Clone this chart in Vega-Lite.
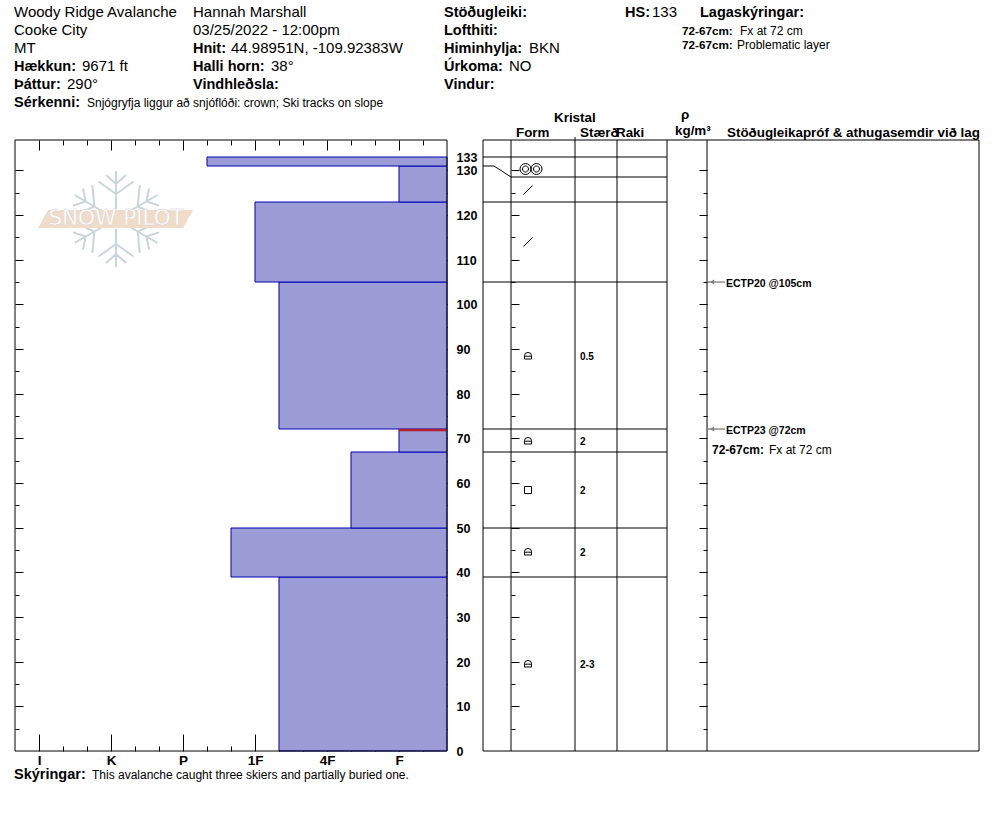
{
"$schema":"https://vega.github.io/schema/vega-lite/v6.json",
"autosize":{"type":"fit","contains":"padding"},
"width":994,"height":840,"padding":0,
"background":"white",
"config":{"view":{"stroke":null},"font":"Liberation Sans","axis":{"title":null,"grid":false,"zindex":1,"domain":false,"tickColor":"#000","tickWidth":1,"labelFlush":false,"labelBound":false,"labelOverlap":false,"labelFont":"Liberation Sans"}},
"datasets":{
"page":[
{"x":14,"line":1,"text":"Woody Ridge Avalanche","kind":"value"},
{"x":14,"line":2,"text":"Cooke City","kind":"value"},
{"x":14,"line":3,"text":"MT","kind":"value"},
{"x":14,"line":4,"text":"Hækkun:","kind":"label"},
{"x":82,"line":4,"text":"9671 ft","kind":"value"},
{"x":14,"line":5,"text":"Þáttur:","kind":"label"},
{"x":67,"line":5,"text":"290°","kind":"value"},
{"x":14,"line":6,"text":"Sérkenni:","kind":"label"},
{"x":87,"line":6,"text":"Snjógryfja liggur að snjóflóði: crown;  Ski tracks on slope","kind":"note"},
{"x":193,"line":1,"text":"Hannah Marshall","kind":"value"},
{"x":193,"line":2,"text":"03/25/2022 - 12:00pm","kind":"value"},
{"x":193,"line":3,"text":"Hnit:","kind":"label"},
{"x":231,"line":3,"text":"44.98951N, -109.92383W","kind":"value"},
{"x":193,"line":4,"text":"Halli horn:","kind":"label"},
{"x":271,"line":4,"text":"38°","kind":"value"},
{"x":193,"line":5,"text":"Vindhleðsla:","kind":"label"},
{"x":444,"line":1,"text":"Stöðugleiki:","kind":"label"},
{"x":444,"line":2,"text":"Lofthiti:","kind":"label"},
{"x":444,"line":3,"text":"Himinhylja:","kind":"label"},
{"x":529,"line":3,"text":"BKN","kind":"value"},
{"x":444,"line":4,"text":"Úrkoma:","kind":"label"},
{"x":509,"line":4,"text":"NO","kind":"value"},
{"x":444,"line":5,"text":"Vindur:","kind":"label"},
{"x":625,"line":1,"text":"HS:","kind":"label"},
{"x":652,"line":1,"text":"133","kind":"value"},
{"x":700,"line":1,"text":"Lagaskýringar:","kind":"label"},
{"x":682,"line":2,"text":"72-67cm:","kind":"smalllabel"},
{"x":740,"line":2,"text":"Fx at 72 cm","kind":"note"},
{"x":682,"line":2.78,"text":"72-67cm:","kind":"smalllabel"},
{"x":737,"line":2.78,"text":"Problematic layer","kind":"note"},
{"x":554,"line":6.89,"text":"Kristal","kind":"column"},
{"x":516,"line":7.72,"text":"Form","kind":"column"},
{"x":580,"line":7.72,"text":"Stærð","kind":"column"},
{"x":616,"line":7.72,"text":"Raki","kind":"column"},
{"x":681,"line":6.72,"text":"ρ","kind":"column"},
{"x":675,"line":7.61,"text":"kg/m³","kind":"column"},
{"x":727,"line":7.72,"text":"Stöðugleikapróf & athugasemdir við lag","kind":"column"},
{"x":14,"line":43.33,"text":"Skýringar:","kind":"label"},
{"x":92,"line":43.33,"text":"This avalanche caught three skiers and partially buried one.","kind":"note"}
],
"layers":[
{"bottom":0,"top":39,"hardness":2.6667},
{"bottom":39,"top":50,"hardness":3.3333},
{"bottom":50,"top":67,"hardness":1.6667},
{"bottom":67,"top":72,"hardness":1},
{"bottom":72,"top":105,"hardness":2.6667},
{"bottom":105,"top":123,"hardness":3},
{"bottom":123,"top":131,"hardness":1},
{"bottom":131,"top":133,"hardness":3.6667}
],
"boundaries":[
{"depth":133,"from":0,"to":184},
{"depth":128.5,"from":28,"to":184},
{"depth":123,"from":0,"to":184},
{"depth":105,"from":0,"to":184},
{"depth":72,"from":0,"to":184},
{"depth":67,"from":0,"to":184},
{"depth":50,"from":0,"to":184},
{"depth":39,"from":0,"to":184},
{"depth":136.78,"from":0,"to":496},
{"depth":0,"from":0,"to":496}
],
"columns":[{"col":0},{"col":28},{"col":92},{"col":134},{"col":184},{"col":224},{"col":496}],
"grains":[
{"depth":130.3,"form":"clustered"},
{"depth":125.7,"form":"slash"},
{"depth":114,"form":"slash"},
{"depth":88.5,"form":"rounded"},
{"depth":69.5,"form":"rounded"},
{"depth":58.5,"form":"facet"},
{"depth":44.5,"form":"rounded"},
{"depth":19.5,"form":"rounded"}
],
"sizes":[
{"depth":88.5,"size":"0.5"},
{"depth":69.5,"size":"2"},
{"depth":58.5,"size":"2"},
{"depth":44.5,"size":"2"},
{"depth":19.5,"size":"2-3"}
],
"tests":[
{"depth":105,"text":"ECTP20 @105cm"},
{"depth":72,"text":"ECTP23 @72cm"}
],
"connector":[
{"col":0,"depth":131},
{"col":11,"depth":131},
{"col":28,"depth":128.5}
],
"anchor":[{"depth":0,"hardness":1}]
},
"resolve":{"scale":{"x":"independent","y":"independent"},"axis":{"x":"independent","y":"independent"}},
"layer":[
{"data":{"name":"page"},
"encoding":{
"x":{"field":"x","type":"quantitative","scale":{"domain":[0,994],"nice":false,"zero":false},"axis":null},
"y":{"field":"line","type":"quantitative","scale":{"domain":[0.3333,47],"reverse":true,"nice":false,"zero":false},"axis":null},
"text":{"field":"text"}},
"layer":[
{"transform":[{"filter":"datum.kind==='value'"}],"mark":{"type":"text","align":"left","baseline":"middle","fontSize":15,"font":"Liberation Sans","color":"#000"}},
{"transform":[{"filter":"datum.kind==='label'"}],"mark":{"type":"text","align":"left","baseline":"middle","dy":1,"fontSize":14.5,"fontWeight":"bold","font":"Liberation Sans","color":"#000"}},
{"transform":[{"filter":"datum.kind==='note'"}],"mark":{"type":"text","align":"left","baseline":"middle","dy":1,"fontSize":12,"font":"Liberation Sans","color":"#000"}},
{"transform":[{"filter":"datum.kind==='smalllabel'"}],"mark":{"type":"text","align":"left","baseline":"middle","dy":1,"fontSize":11.7,"fontWeight":"bold","font":"Liberation Sans","color":"#000"}},
{"transform":[{"filter":"datum.kind==='column'"}],"mark":{"type":"text","align":"left","baseline":"middle","fontSize":13.4,"fontWeight":"bold","font":"Liberation Sans","color":"#000"}}
]},
{"resolve":{"axis":{"x":"independent","y":"independent"}},
"layer":[
{"data":{"name":"layers"},"mark":{"type":"rect","fill":"#9b9bd6","stroke":"#0000b4","strokeWidth":1},
"encoding":{
"x":{"field":"hardness","type":"quantitative","scale":{"domain":[6.5417,-7.2639],"nice":false,"zero":false},"axis":null},
"x2":{"datum":0.3333},
"y":{"field":"bottom","type":"quantitative","scale":{"domain":[-19.93,168.16],"nice":false,"zero":false,"round":true},"axis":null},
"y2":{"field":"top"}}},
{"data":{"values":[{"hardness":1,"edge":0.3333,"depth":71.8}]},"mark":{"type":"rule","color":"#b02030","strokeWidth":2.5},
"encoding":{"x":{"field":"hardness","type":"quantitative","axis":null},"x2":{"field":"edge"},"y":{"field":"depth","type":"quantitative","axis":null}}},
{"data":{"values":[{"hardness":4.93,"depth":119.1,"part":"flake"}]},"mark":{"type":"point","filled":false,"stroke":"#c9d5dc","strokeWidth":2,"size":10000,"opacity":1,"shape":"M0,-.2L0,-.96M-.35,-.75L0,-.5L.35,-.75M-.2,-.88L0,-.7L.2,-.88M.173,-.1L.831,-.48M.475,-.678L.433,-.25L.825,-.072M.662,-.613L.606,-.35L.862,-.267M.173,.1L.831,.48M.825,.072L.433,.25L.475,.678M.862,.267L.606,.35L.662,.613M0,.2L0,.96M.35,.75L0,.5L-.35,.75M.2,.88L0,.7L-.2,.88M-.173,.1L-.831,.48M-.475,.678L-.433,.25L-.825,.072M-.662,.613L-.606,.35L-.862,.267M-.173,-.1L-.831,-.48M-.825,-.072L-.433,-.25L-.475,-.678M-.862,-.267L-.606,-.35L-.662,-.613"},
"encoding":{"x":{"field":"hardness","type":"quantitative","axis":null},"y":{"field":"depth","type":"quantitative","axis":null}}},
{"data":{"values":[{"hardness":4.93,"depth":119.1,"part":"banner"}]},"mark":{"type":"point","filled":true,"fill":"#f0dcc8","opacity":1,"strokeWidth":0,"size":10000,"shape":"M-1.56,.18L-1.36,-.18L1.54,-.18L1.34,.18Z"},
"encoding":{"x":{"field":"hardness","type":"quantitative","axis":null},"y":{"field":"depth","type":"quantitative","axis":null}}},
{"data":{"values":[{"hardness":4.93,"depth":119.1,"name":"SNOW PILOT"}]},"mark":{"type":"text","font":"DejaVu Sans","fontSize":21.5,"fill":"#ffffff","stroke":"#c9cdd0","strokeWidth":0.3,"align":"center","baseline":"middle"},
"encoding":{"x":{"field":"hardness","type":"quantitative","axis":null},"y":{"field":"depth","type":"quantitative","axis":null},"text":{"field":"name"}}},
{"data":{"values":[{"h":6.3333},{"h":0.3333}]},"mark":{"type":"rule","color":"#000","strokeWidth":1},
"encoding":{"x":{"field":"h","type":"quantitative","axis":null},"y":{"datum":0,"axis":null},"y2":{"datum":136.78}}},
{"data":{"values":[{"d":136.78},{"d":0}]},"mark":{"type":"rule","color":"#000","strokeWidth":1},
"encoding":{"x":{"datum":6.3333,"axis":null},"x2":{"datum":0.3333},"y":{"field":"d","type":"quantitative","axis":null}}},
{"data":{"name":"anchor"},"mark":{"type":"rule","opacity":0},"encoding":{"y":{"field":"depth","type":"quantitative","axis":{"orient":"right","offset":-979,"values":[10,20,30,40,50,60,70,80,90,100,110,120,130],"labels":false,"tickSize":8}}}},
{"data":{"name":"anchor"},"mark":{"type":"rule","opacity":0},"encoding":{"y":{"field":"depth","type":"quantitative","axis":{"orient":"right","offset":-979,"values":[5,15,25,35,45,55,65,75,85,95,105,115,125],"labels":false,"tickSize":4}}}},
{"data":{"name":"anchor"},"mark":{"type":"rule","opacity":0},"encoding":{"y":{"field":"depth","type":"quantitative","axis":{"orient":"left","offset":-447,"values":[10,20,30,40,50,60,70,80,90,100,110,120,130],"labels":false,"tickSize":8}}}},
{"data":{"name":"anchor"},"mark":{"type":"rule","opacity":0},"encoding":{"y":{"field":"depth","type":"quantitative","axis":{"orient":"left","offset":-447,"values":[5,15,25,35,45,55,65,75,85,95,105,115,125],"labels":false,"tickSize":4}}}},
{"data":{"name":"anchor"},"mark":{"type":"rule","opacity":0},"encoding":{"y":{"field":"depth","type":"quantitative","axis":{"orient":"right","offset":-538,"values":[0,10,20,30,40,50,60,70,80,90,100,110,120,130,133],"ticks":false,"tickSize":0,"labelPadding":0,"labelFontSize":12.5,"labelFontWeight":"bold","labelColor":"#000","labelAlign":"left"}}}},
{"data":{"name":"anchor"},"mark":{"type":"rule","opacity":0},"encoding":{"x":{"field":"hardness","type":"quantitative","axis":{"orient":"bottom","offset":-89,"values":[1,2,3,4,5,6],"ticks":false,"tickSize":0,"labelPadding":2,"labelFontSize":13.5,"labelFontWeight":"bold","labelColor":"#000","labelExpr":"{'1':'F','2':'4F','3':'1F','4':'P','5':'K','6':'I'}[datum.value]"}}}},
{"data":{"name":"anchor"},"mark":{"type":"rule","opacity":0},"encoding":{"x":{"field":"hardness","type":"quantitative","axis":{"orient":"top","offset":-751,"values":[1,2,3,4,5,6],"tickSize":17,"labels":false}}}},
{"data":{"name":"anchor"},"mark":{"type":"rule","opacity":0},"encoding":{"x":{"field":"hardness","type":"quantitative","axis":{"orient":"top","offset":-751,"values":[0.6667,1.3333,1.6667,2.3333,2.6667,3.3333,3.6667,4.3333,4.6667,5.3333,5.6667],"tickSize":5,"labels":false}}}},
{"data":{"name":"anchor"},"mark":{"type":"rule","opacity":0},"encoding":{"x":{"field":"hardness","type":"quantitative","axis":{"orient":"bottom","offset":-700,"values":[1,2,3,4,5,6],"tickSize":10,"labels":false}}}},
{"data":{"name":"anchor"},"mark":{"type":"rule","opacity":0},"encoding":{"x":{"field":"hardness","type":"quantitative","axis":{"orient":"bottom","offset":-700,"values":[0.6667,1.3333,1.6667,2.3333,2.6667,3.3333,3.6667,4.3333,4.6667,5.3333,5.6667],"tickSize":5,"labels":false}}}}
]},
{"resolve":{"axis":{"x":"independent","y":"independent"}},
"layer":[
{"data":{"name":"columns"},"mark":{"type":"rule","color":"#000","strokeWidth":1},
"encoding":{"x":{"field":"col","type":"quantitative","scale":{"domain":[-483,511],"nice":false,"zero":false},"axis":null},"y":{"datum":0,"scale":{"domain":[-19.93,168.16],"nice":false,"zero":false,"round":true},"axis":null},"y2":{"datum":136.78}}},
{"data":{"values":[{"col":92}]},"mark":{"type":"rule","color":"#000","strokeWidth":1},
"encoding":{"x":{"field":"col","type":"quantitative","axis":null},"y":{"datum":136.78,"axis":null},"y2":{"datum":137.4}}},
{"data":{"name":"boundaries"},"mark":{"type":"rule","color":"#000","strokeWidth":1},
"encoding":{"x":{"field":"from","type":"quantitative","axis":null},"x2":{"field":"to"},"y":{"field":"depth","type":"quantitative","axis":null}}},
{"data":{"name":"connector"},"mark":{"type":"line","color":"#000","strokeWidth":1},
"encoding":{"x":{"field":"col","type":"quantitative","axis":null},"y":{"field":"depth","type":"quantitative","axis":null},"order":{"field":"col"}}},
{"data":{"name":"grains"},"mark":{"type":"point","filled":false,"stroke":"#000","strokeWidth":1,"size":4,"opacity":1},
"encoding":{"x":{"datum":45,"axis":null},"y":{"field":"depth","type":"quantitative","axis":null},
"shape":{"field":"form","type":"nominal","legend":null,"scale":{"domain":["clustered","slash","rounded","facet"],
"range":["M14,0A5.5,5.5 0 1 1 3,0A5.5,5.5 0 1 1 14,0M3,0A5.5,5.5 0 1 1 -8,0A5.5,5.5 0 1 1 3,0M11.5,0A3,3 0 1 1 5.5,0A3,3 0 1 1 11.5,0M.5,0A3,3 0 1 1 -5.5,0A3,3 0 1 1 .5,0",
"M-4.5,4.5L4.5,-4.5",
"M-3.5,3L-3.5,-.5Q-3.5,-3.5 0,-3.5Q3.5,-3.5 3.5,-.5L3.5,3ZM-3.5,.2L3.5,.2",
"M-3.5,-3.5L3.5,-3.5L3.5,3.5L-3.5,3.5Z"]}}}},
{"data":{"name":"sizes"},"mark":{"type":"text","align":"left","baseline":"middle","dy":1,"fontSize":10,"fontWeight":"bold","font":"Liberation Sans","color":"#000"},
"encoding":{"x":{"datum":97,"axis":null},"y":{"field":"depth","type":"quantitative","axis":null},"text":{"field":"size"}}},
{"data":{"name":"tests"},"mark":{"type":"rule","color":"#555","strokeWidth":1},
"encoding":{"x":{"datum":225,"axis":null},"x2":{"datum":242},"y":{"field":"depth","type":"quantitative","axis":null}}},
{"data":{"name":"tests"},"mark":{"type":"point","shape":"triangle-left","filled":true,"color":"#808080","size":25,"opacity":1},
"encoding":{"x":{"datum":229,"axis":null},"y":{"field":"depth","type":"quantitative","axis":null}}},
{"data":{"name":"tests"},"mark":{"type":"text","align":"left","baseline":"middle","dy":1.5,"fontSize":10.5,"fontWeight":"bold","font":"Liberation Sans","color":"#000"},
"encoding":{"x":{"datum":243,"axis":null},"y":{"field":"depth","type":"quantitative","axis":null},"text":{"field":"text"}}},
{"data":{"values":[{"depth":67.4,"text":"72-67cm:"}]},"mark":{"type":"text","align":"left","baseline":"middle","fontSize":12,"fontWeight":"bold","font":"Liberation Sans","color":"#000"},
"encoding":{"x":{"datum":229,"axis":null},"y":{"field":"depth","type":"quantitative","axis":null},"text":{"field":"text"}}},
{"data":{"values":[{"depth":67.4,"text":"Fx at 72 cm"}]},"mark":{"type":"text","align":"left","baseline":"middle","fontSize":12,"font":"Liberation Sans","color":"#000"},
"encoding":{"x":{"datum":286,"axis":null},"y":{"field":"depth","type":"quantitative","axis":null},"text":{"field":"text"}}},
{"data":{"name":"anchor"},"mark":{"type":"rule","opacity":0},"encoding":{"y":{"field":"depth","type":"quantitative","axis":{"orient":"right","offset":-483,"values":[10,20,30,40,50,60,70,80,90,100,110,120,130],"labels":false,"tickSize":8}}}},
{"data":{"name":"anchor"},"mark":{"type":"rule","opacity":0},"encoding":{"y":{"field":"depth","type":"quantitative","axis":{"orient":"right","offset":-483,"values":[5,15,25,35,45,55,65,75,85,95,105,115,125],"labels":false,"tickSize":4}}}},
{"data":{"name":"anchor"},"mark":{"type":"rule","opacity":0},"encoding":{"y":{"field":"depth","type":"quantitative","axis":{"orient":"left","offset":-707,"values":[10,20,30,40,50,60,70,80,90,100,110,120,130],"labels":false,"tickSize":8}}}},
{"data":{"name":"anchor"},"mark":{"type":"rule","opacity":0},"encoding":{"y":{"field":"depth","type":"quantitative","axis":{"orient":"left","offset":-707,"values":[5,15,25,35,45,55,65,75,85,95,105,115,125],"labels":false,"tickSize":4}}}}
]}
]
}
